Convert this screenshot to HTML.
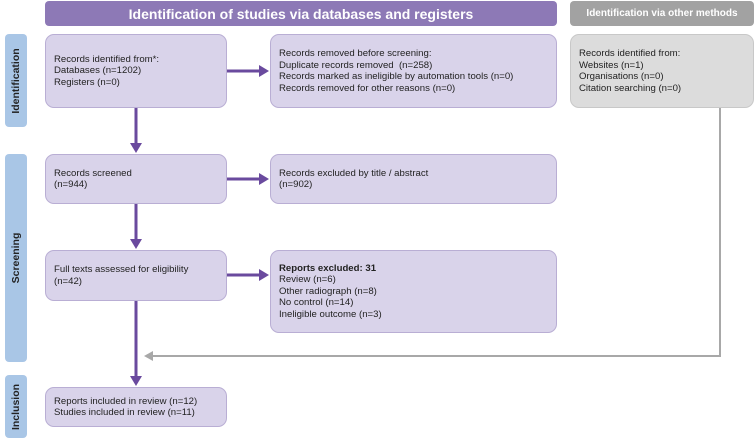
<!DOCTYPE html><html><head><style>
body{margin:0;width:756px;height:440px;background:#fff;position:relative;font-family:"Liberation Sans",Arial,sans-serif;overflow:hidden}
.b{position:absolute;box-sizing:border-box;background:#d9d3ea;border:1px solid #b9aed4;border-radius:9px;font-size:9.6px;line-height:11.5px;color:#222;padding:0 0 0 8px;display:flex;flex-direction:column;justify-content:center}
.g{background:#dcdcdc;border-color:#c8c8c8}
.h{position:absolute;color:#fff;font-weight:bold;text-align:center;border-radius:4px;display:flex;align-items:center;justify-content:center}
.s{position:absolute;left:5px;width:22px;background:#a9c6e6;border-radius:4px}
.s span{position:absolute;left:50%;top:50%;transform:translate(-50%,-50%) rotate(-90deg);font-weight:bold;font-size:10.5px;color:#222;white-space:nowrap}
</style></head><body>
<div class="h" style="left:45px;top:1px;width:512px;height:25px;background:#8d79b6;font-size:14px">Identification of studies via databases and registers</div>
<div class="h" style="left:570px;top:1px;width:184px;height:25px;background:#a2a2a2;font-size:10px">Identification via other methods</div>
<div class="s" style="top:34px;height:93px"><span>Identification</span></div>
<div class="s" style="top:154px;height:208px"><span>Screening</span></div>
<div class="s" style="top:375px;height:63px"><span>Inclusion</span></div>
<div class="b" style="left:45px;top:34px;width:182px;height:74px">Records identified from*:<br>Databases (n=1202)<br>Registers (n=0)</div>
<div class="b" style="left:270px;top:34px;width:287px;height:74px">Records removed before screening:<br>Duplicate records removed &nbsp;(n=258)<br>Records marked as ineligible by automation tools (n=0)<br>Records removed for other reasons (n=0)</div>
<div class="b g" style="left:570px;top:34px;width:184px;height:74px">Records identified from:<br>Websites (n=1)<br>Organisations (n=0)<br>Citation searching (n=0)</div>
<div class="b" style="left:45px;top:154px;width:182px;height:50px">Records screened<br>(n=944)</div>
<div class="b" style="left:270px;top:154px;width:287px;height:50px">Records excluded by title / abstract<br>(n=902)</div>
<div class="b" style="left:45px;top:250px;width:182px;height:51px">Full texts assessed for eligibility<br>(n=42)</div>
<div class="b" style="left:270px;top:250px;width:287px;height:83px"><b>Reports excluded: 31</b>Review (n=6)<br>Other radiograph (n=8)<br>No control (n=14)<br>Ineligible outcome (n=3)</div>
<div class="b" style="left:45px;top:387px;width:182px;height:40px">Reports included in review (n=12)<br>Studies included in review (n=11)</div>
<svg width="756" height="440" style="position:absolute;left:0;top:0">
<g stroke="#6a4a9e" stroke-width="3" fill="none">
<line x1="136" y1="108" x2="136" y2="144"/><line x1="136" y1="204" x2="136" y2="240"/><line x1="136" y1="301" x2="136" y2="377"/>
<line x1="227" y1="71" x2="260" y2="71"/><line x1="227" y1="179" x2="260" y2="179"/><line x1="227" y1="275" x2="260" y2="275"/>
</g>
<g fill="#6a4a9e">
<polygon points="130,143 142,143 136,153"/><polygon points="130,239 142,239 136,249"/><polygon points="130,376 142,376 136,386"/>
<polygon points="259,65 259,77 269,71"/><polygon points="259,173 259,185 269,179"/><polygon points="259,269 259,281 269,275"/>
</g>
<polyline points="720,108 720,356 152,356" stroke="#a8a8a8" stroke-width="2" fill="none"/>
<polygon points="144,356 153,351 153,361" fill="#a8a8a8"/>
</svg>
</body></html>
